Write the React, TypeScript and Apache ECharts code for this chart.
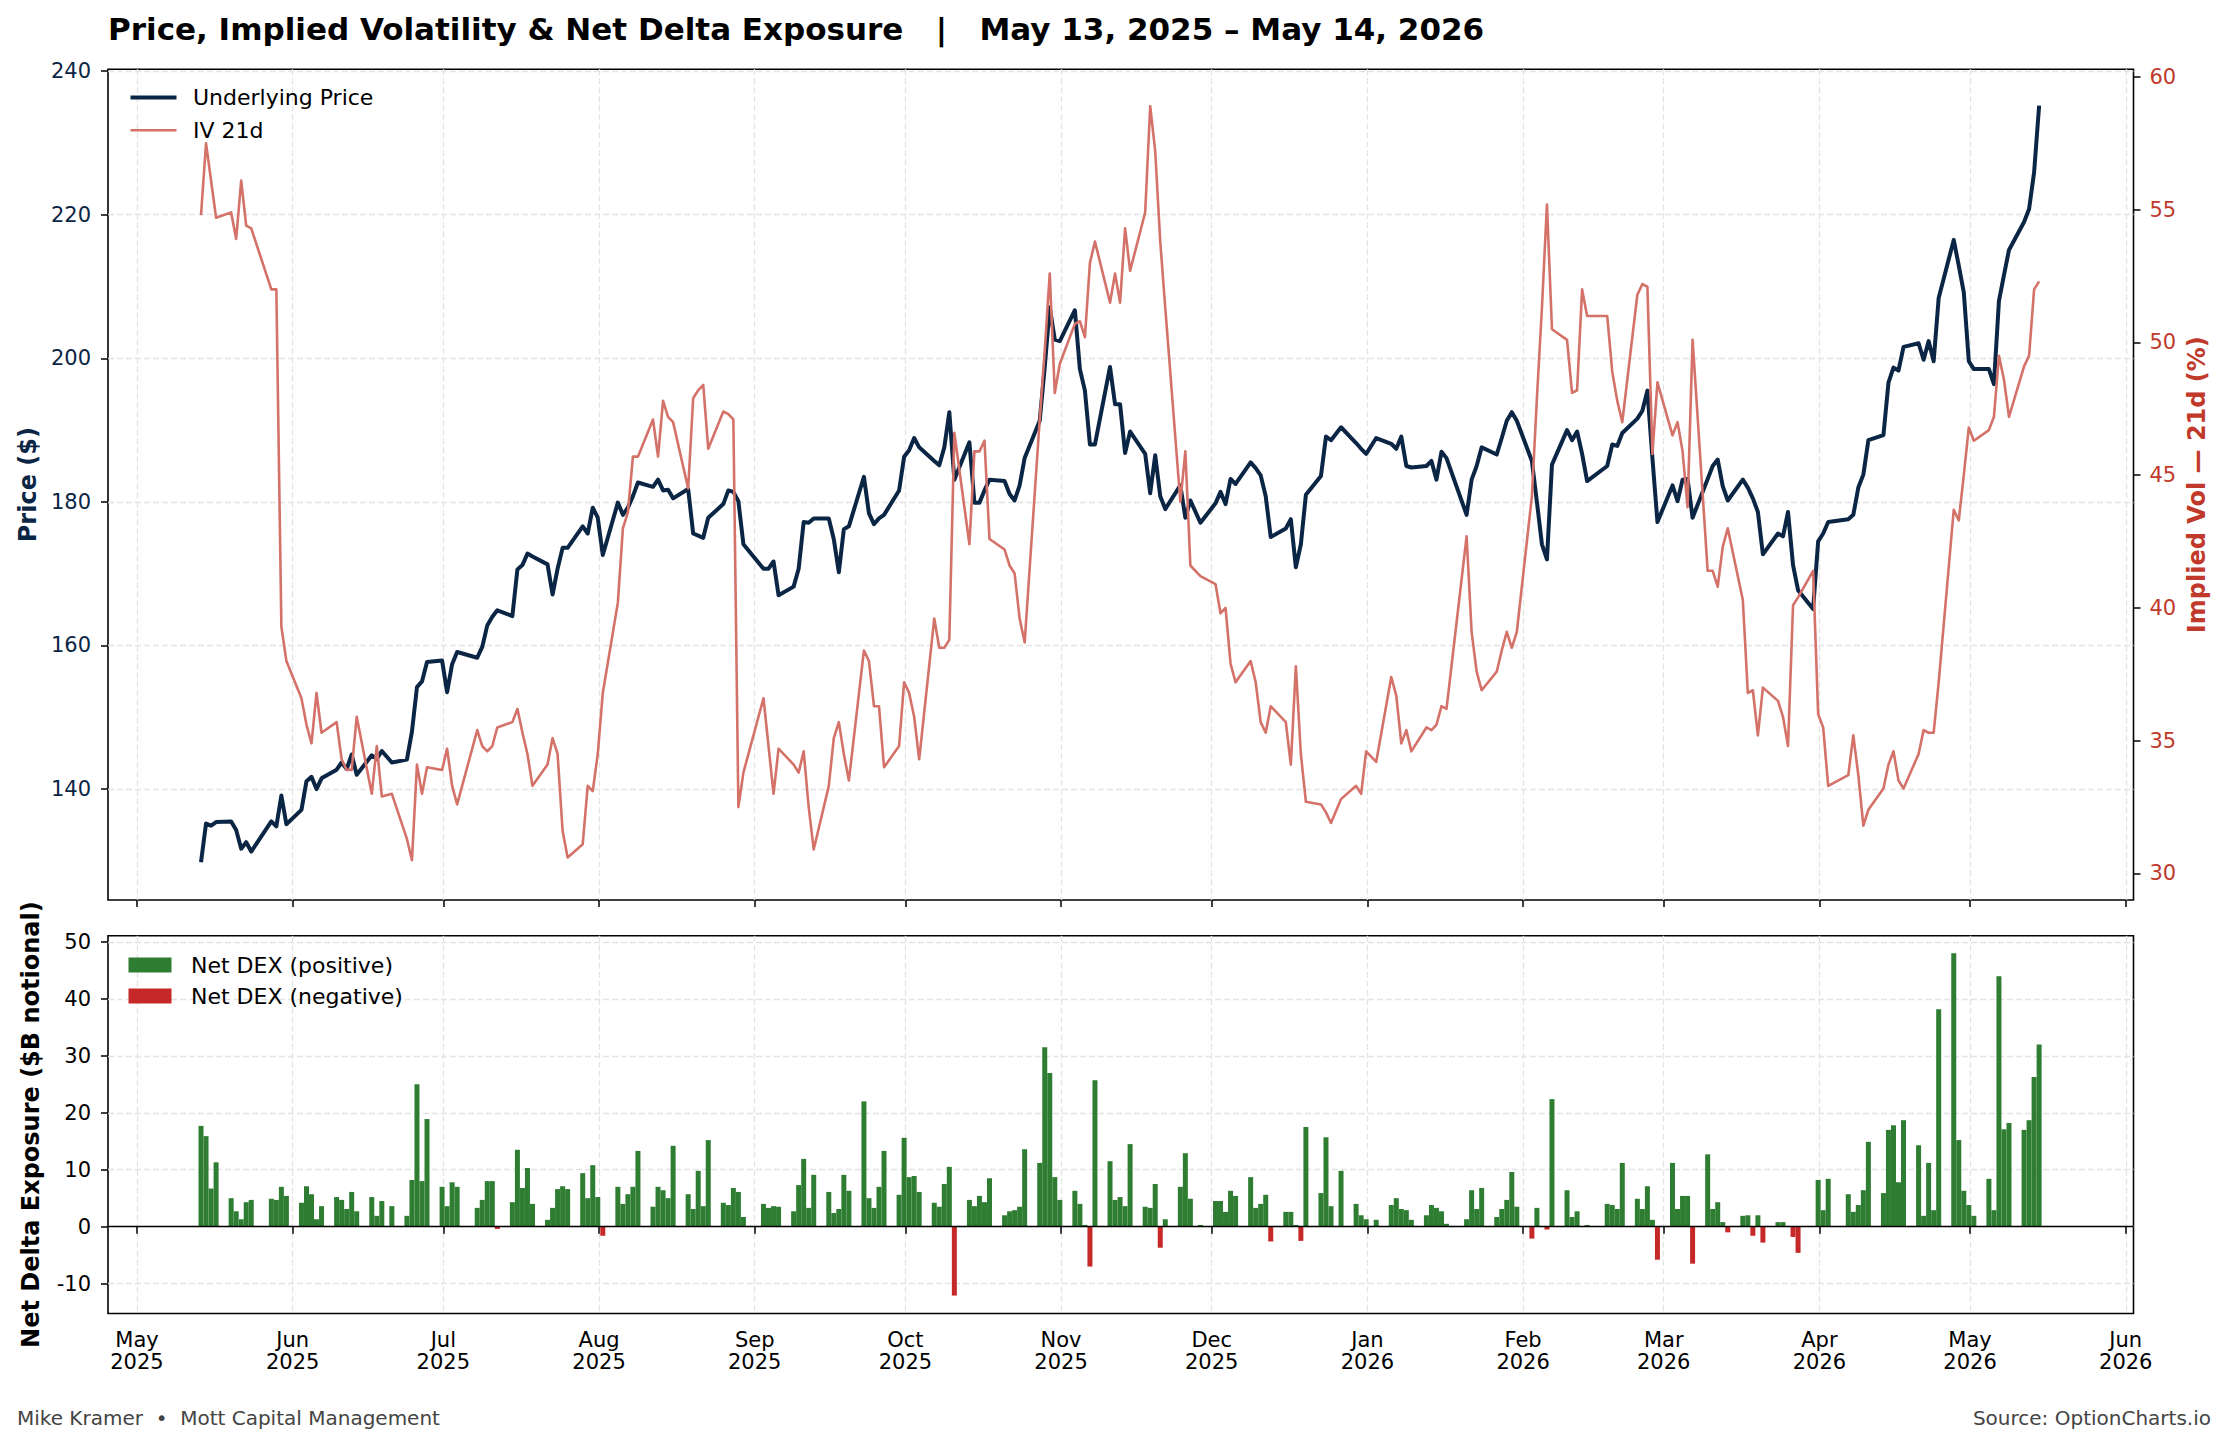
import { useEffect, useRef } from "react";
import * as echarts from "echarts";

// trading calendar of the chart (NYSE sessions between these dates)
const START = "2025-05-13";
const END = "2026-05-14";
const HOLIDAYS = [
  "2025-05-26", "2025-06-19", "2025-07-04", "2025-09-01", "2025-11-27",
  "2025-12-25", "2026-01-01", "2026-01-19", "2026-02-16", "2026-04-03",
];

// underlying close, one value per session (grouped by month)
const PRICE = [
  129.8, 135.2, 134.9, 135.4, 135.5, 134.3, 131.7, 132.6, 131.3, 135.5, 134.8, 139.1, 135.1,
  137.1, 141.1, 141.7, 140.0, 141.5, 142.7, 143.7, 142.8, 144.8, 142.0, 144.7, 144.2, 145.3, 143.7, 144.1, 148.0, 154.2, 155.0, 157.7, 157.9,
  153.5, 157.4, 159.1, 158.3, 159.8, 162.8, 164.0, 164.9, 164.1, 170.6, 171.2, 172.8, 172.4, 171.3, 167.1, 170.7, 173.6, 173.6, 176.6, 175.6, 179.2, 177.8,
  172.6, 179.9, 178.2, 179.2, 180.8, 182.7, 182.1, 183.1, 181.6, 181.7, 180.5, 181.8, 175.6, 175.3, 175.0, 177.8, 179.7, 181.6, 181.4, 180.1, 174.1,
  170.7, 170.7, 171.7, 167.0, 168.2, 170.7, 177.2, 177.1, 177.7, 177.7, 174.8, 170.2, 176.2, 176.6, 183.5, 178.4, 176.9, 177.7, 178.2, 181.6, 186.3,
  187.2, 188.9, 187.6, 185.7, 185.1, 187.6, 192.5, 183.1, 188.3, 179.9, 179.9, 181.6, 183.1, 182.9, 181.1, 180.2, 182.3, 186.1, 191.3, 198.8, 207.1, 202.6, 202.4,
  206.7, 198.5, 195.5, 188.0, 188.0, 198.8, 193.6, 193.6, 186.8, 189.8, 186.7, 181.2, 186.5, 180.8, 179.0, 182.3, 177.8, 180.2, 177.1,
  179.8, 181.4, 179.7, 183.2, 182.5, 185.5, 184.7, 183.7, 180.8, 175.1, 176.3, 177.6, 170.9, 174.1, 181.0, 183.6, 189.1, 188.6, 190.4, 188.2, 187.4, 186.7,
  188.9, 188.1, 187.4, 189.1, 185.0, 184.8, 185.0, 185.7, 183.1, 187.0, 186.1, 178.2, 183.1, 185.0, 187.6, 186.6, 188.9, 191.3, 192.5, 191.3,
  185.7, 180.0, 174.1, 172.0, 185.2, 190.0, 188.6, 189.8, 186.7, 182.9, 185.0, 188.0, 187.8, 189.6, 191.6, 192.7, 195.5, 186.1, 177.2,
  182.3, 180.1, 183.1, 183.2, 177.8, 183.2, 185.0, 185.9, 182.2, 180.2, 183.1, 182.0, 180.5, 178.6, 172.7, 175.6, 175.2, 178.6, 171.2, 167.7, 165.1, 174.5,
  175.6, 177.2, 177.6, 178.2, 182.0, 183.8, 188.6, 189.3, 196.6, 198.7, 198.3, 201.6, 202.1, 199.8, 202.4, 199.6, 208.4, 216.5, 212.9, 209.2, 199.6,
  198.5, 198.5, 196.4, 208.0, 211.6, 215.1, 219.0, 220.8, 225.9, 235.2,
];

// 21-day implied volatility, %
const IV_21D = [
  54.8, 57.5, 56.1, 54.7, 54.9, 53.9, 56.1, 54.4, 54.3, 52.0, 52.0, 39.3, 38.0,
  36.6, 35.6, 34.9, 36.8, 35.3, 35.7, 34.3, 33.9, 33.9, 35.9, 33.0, 34.8, 32.9, 33.0, 31.3, 30.5, 34.1, 33.0, 34.0, 33.9,
  34.7, 33.3, 32.6, 35.4, 34.8, 34.6, 34.8, 35.5, 35.7, 36.2, 35.3, 34.5, 33.3, 34.1, 35.1, 34.5, 31.6, 30.6, 31.1, 33.3, 33.1, 34.5,
  36.8, 40.2, 43.0, 43.6, 45.7, 45.7, 47.1, 45.7, 47.8, 47.2, 47.0, 44.5, 47.9, 48.2, 48.4, 46.0, 47.4, 47.3, 47.1, 32.5, 33.8,
  36.6, 34.8, 33.0, 34.7, 34.1, 33.8, 34.6, 32.5, 30.9, 33.3, 35.1, 35.7, 34.5, 33.5, 38.4, 38.0, 36.3, 36.3, 34.0, 34.8, 37.2,
  36.8, 35.9, 34.3, 39.6, 38.5, 38.5, 38.8, 46.6, 42.4, 45.9, 45.9, 46.3, 42.6, 42.2, 41.6, 41.3, 39.6, 38.7, 47.1, 49.7, 52.6, 48.1, 49.2,
  50.7, 50.8, 50.2, 53.0, 53.8, 51.5, 52.6, 51.5, 54.3, 52.7, 54.9, 58.9, 57.2, 53.8, 51.3, 44.0, 45.9, 41.6, 41.2,
  40.9, 39.8, 40.0, 37.9, 37.2, 38.0, 37.2, 35.7, 35.3, 36.3, 35.7, 34.1, 37.8, 34.5, 32.7, 32.6, 32.3, 31.9, 32.8, 33.3, 33.0, 34.6,
  34.2, 37.4, 36.7, 34.9, 35.4, 34.6, 35.5, 35.4, 35.6, 36.3, 36.2, 42.7, 39.1, 37.6, 36.9, 37.6, 38.4, 39.1, 38.5, 39.1,
  44.2, 47.9, 51.3, 55.2, 50.5, 50.1, 48.1, 48.2, 52.0, 51.0, 51.0, 48.9, 47.8, 47.0, 51.8, 52.2, 52.1, 45.8, 48.5,
  46.5, 47.0, 45.9, 43.8, 50.1, 41.4, 41.4, 40.8, 42.3, 43.0, 40.3, 36.8, 36.9, 35.2, 37.0, 36.5, 35.9, 34.8, 40.1, 40.4, 41.4, 36.0,
  35.5, 33.3, 33.7, 35.2, 33.7, 31.8, 32.4, 33.2, 34.1, 34.6, 33.5, 33.2, 34.5, 35.4, 35.3, 35.3, 37.2, 43.7, 43.3, 45.0, 46.8,
  46.3, 46.7, 47.2, 49.5, 48.6, 47.2, 49.1, 49.5, 52.0, 52.3,
];

// net delta exposure, $B notional
const NET_DEX = [
  17.7, 15.9, 6.7, 11.3, 5.0, 2.7, 1.3, 4.3, 4.7, 4.9, 4.7, 7.0, 5.4,
  4.2, 7.1, 5.7, 1.3, 3.6, 5.2, 4.7, 3.1, 6.1, 2.7, 5.2, 1.9, 4.5, 3.6, 1.9, 8.2, 25.0, 8.0, 18.9, 7.0,
  3.6, 7.8, 7.0, 3.3, 4.7, 8.0, 8.0, -0.4, 4.3, 13.5, 6.8, 10.3, 4.0, 1.2, 3.3, 6.6, 7.1, 6.6, 9.4, 5.0, 10.8, 5.2,
  -1.6, 7.0, 4.0, 5.7, 7.0, 13.3, 3.5, 7.0, 6.4, 5.0, 14.2, 5.7, 3.1, 9.8, 3.6, 15.2, 4.2, 3.8, 6.8, 6.1, 1.7,
  4.0, 3.3, 3.6, 3.5, 2.7, 7.3, 11.9, 3.3, 9.1, 6.1, 2.4, 3.1, 9.1, 6.3, 22.0, 5.0, 3.3, 7.0, 13.3, 5.6, 15.6,
  8.7, 8.9, 6.1, 4.2, 3.5, 7.5, 10.5, -12.1, 4.7, 3.6, 5.4, 4.3, 8.5, 2.0, 2.7, 2.9, 3.5, 13.6, 11.2, 31.5, 27.0, 8.7, 4.7,
  6.3, 4.0, 0.3, -7.0, 25.7, 11.5, 4.7, 5.2, 3.6, 14.5, 3.5, 3.3, 7.5, -3.7, 1.3, 7.0, 12.9, 4.9, 0.3,
  4.5, 4.5, 2.6, 6.3, 5.4, 8.7, 3.3, 4.0, 5.6, -2.6, 2.6, 2.6, 0.3, -2.5, 17.5, 5.9, 15.7, 3.6, 9.8, 4.0, 2.0, 1.3,
  1.2, 3.8, 5.0, 3.1, 2.9, 1.2, 2.0, 3.8, 3.3, 2.7, 0.5, 1.3, 6.4, 3.1, 6.8, 1.7, 3.1, 4.7, 9.6, 3.5,
  -2.1, 3.3, 0, -0.5, 22.4, 6.4, 1.7, 2.7, 0.1, 0.3, 4.0, 3.8, 3.1, 11.2, 4.9, 3.1, 7.1, 1.2, -5.8,
  11.2, 3.1, 5.4, 5.4, -6.5, 12.7, 3.1, 4.3, 0.8, -1.0, 1.9, 2.0, -1.6, 2.0, -2.8, 0.8, 0.8, 0, -1.8, -4.6, 0, 8.2,
  2.9, 8.4, 5.7, 2.6, 3.8, 6.4, 14.9, 5.9, 17.0, 17.8, 7.8, 18.7, 14.3, 1.9, 11.2, 2.9, 38.2, 48.0, 15.2, 6.3, 3.8,
  1.9, 8.4, 2.9, 44.0, 17.1, 18.2, 17.0, 18.7, 26.3, 32.0,
];

const MONTH_TICKS = [
  "2025-05-01", "2025-06-01", "2025-07-01", "2025-08-01", "2025-09-01", "2025-10-01", "2025-11-01",
  "2025-12-01", "2026-01-01", "2026-02-01", "2026-03-01", "2026-04-01", "2026-05-01", "2026-06-01",
];
const PRICE_TICKS = [140, 160, 180, 200, 220, 240];
const IV_TICKS = [30, 35, 40, 45, 50, 55, 60];
const DEX_TICKS = [-10, 0, 10, 20, 30, 40, 50];

const MONTHS = ["Jan", "Feb", "Mar", "Apr", "May", "Jun", "Jul", "Aug", "Sep", "Oct", "Nov", "Dec"];

const NAVY = "#0b2545";
const IV_RED = "#d4726a";
const AXIS_RED = "#c0392b";
const GREEN = "#2e7d32";
const NEG_RED = "#c62828";
const GRID = "#e4e4e4";
const FONT = "DejaVu Sans";

function tradingDays(): string[] {
  const out: string[] = [];
  const end = Date.parse(END + "T00:00:00Z");
  for (let t = Date.parse(START + "T00:00:00Z"); t <= end; t += 86400000) {
    const d = new Date(t);
    const iso = d.toISOString().slice(0, 10);
    const wd = d.getUTCDay();
    if (wd === 0 || wd === 6 || HOLIDAYS.includes(iso)) continue;
    out.push(iso);
  }
  return out;
}

const ts = (iso: string, time = "T18:00:00Z") => Date.parse(iso + time);

const PriceIvDexChart = () => {
  const chartRef = useRef<HTMLDivElement>(null);

  useEffect(() => {
    if (!chartRef.current) return;
    const chart = echarts.init(chartRef.current, null, { renderer: "svg" });

    const days = tradingDays();
    const priceData = days.map((d, i) => [ts(d), PRICE[i]]);
    const ivData = days.map((d, i) => [ts(d), IV_21D[i]]);
    const posData: number[][] = [];
    const negData: number[][] = [];
    days.forEach((d, i) => {
      if (NET_DEX[i] > 0) posData.push([ts(d), NET_DEX[i]]);
      else if (NET_DEX[i] < 0) negData.push([ts(d), NET_DEX[i]]);
    });

    const monthTicks = MONTH_TICKS.map((m) => ts(m, "T00:00:00Z"));
    const xMin = Date.parse("2025-04-25T05:30:00Z");
    const xMax = Date.parse("2026-06-02T13:00:00Z");

    const tick = { show: true, length: 7, lineStyle: { color: "#000", width: 1.5 } };
    const dashed = { show: true, lineStyle: { color: GRID, width: 1.3, type: [6, 3] } };

    // a plain value axis over timestamps, ticked at the first of every month
    const xAxisBase = (gridIndex: number, showLabel: boolean) => ({
      type: "value",
      gridIndex,
      min: xMin,
      max: xMax,
      axisLine: { show: false },
      axisTick: { ...tick, customValues: monthTicks },
      splitLine: dashed,
      axisLabel: {
        show: showLabel,
        customValues: monthTicks,
        fontFamily: FONT,
        fontSize: 21,
        lineHeight: 22,
        color: "#000",
        margin: 15,
        formatter: (v: number) => {
          const d = new Date(v);
          return MONTHS[d.getUTCMonth()] + "\n" + d.getUTCFullYear();
        },
      },
    });

    const option = {
      animation: false,
      textStyle: { fontFamily: FONT },
      grid: [
        { left: 108, right: 93.5, top: 69.3, height: 830.7, show: true, borderColor: "#000", borderWidth: 1.6, outerBoundsMode: "none" },
        { left: 108, right: 93.5, top: 935.7, height: 377.8, show: true, borderColor: "#000", borderWidth: 1.6, outerBoundsMode: "none" },
      ],
      xAxis: [xAxisBase(0, false), xAxisBase(1, true)],
      yAxis: [
        {
          type: "value",
          gridIndex: 0,
          position: "left",
          min: 124.55,
          max: 240.26,
          axisLine: { show: false },
          axisTick: { ...tick, customValues: PRICE_TICKS },
          axisLabel: { customValues: PRICE_TICKS, color: NAVY, fontFamily: FONT, fontSize: 21, margin: 17 },
          splitLine: dashed,
          name: "Price ($)",
          nameLocation: "middle",
          nameRotate: 90,
          nameGap: 68,
          nameMoveOverlap: false,
          nameTextStyle: { color: NAVY, fontWeight: "bold", fontSize: 24, fontFamily: FONT },
        },
        {
          type: "value",
          gridIndex: 0,
          position: "right",
          min: 29.0,
          max: 60.29,
          axisLine: { show: false },
          axisTick: { ...tick, customValues: IV_TICKS },
          axisLabel: { customValues: IV_TICKS, color: AXIS_RED, fontFamily: FONT, fontSize: 21, margin: 16 },
          splitLine: { show: false },
          name: "Implied Vol — 21d (%)",
          nameLocation: "middle",
          nameRotate: 90,
          nameGap: 51,
          nameMoveOverlap: false,
          nameTextStyle: { color: AXIS_RED, fontWeight: "bold", fontSize: 24, fontFamily: FONT },
        },
        {
          type: "value",
          gridIndex: 1,
          position: "left",
          min: -15.25,
          max: 51.1,
          axisLine: { show: false },
          axisTick: { ...tick, customValues: DEX_TICKS },
          axisLabel: { customValues: DEX_TICKS, color: "#000", fontFamily: FONT, fontSize: 21, margin: 17 },
          splitLine: dashed,
          name: "Net Delta Exposure ($B notional)",
          nameLocation: "middle",
          nameRotate: 90,
          nameGap: 65,
          nameMoveOverlap: false,
          nameTextStyle: { color: "#000", fontWeight: "bold", fontSize: 24, fontFamily: FONT },
        },
      ],
      legend: [
        {
          data: ["Underlying Price", "IV 21d"],
          orient: "vertical",
          left: 123.5,
          top: 80.5,
          itemWidth: 46,
          itemHeight: 14,
          itemGap: 8.7,
          selectedMode: false,
          itemStyle: { opacity: 0 },
          lineStyle: { width: "inherit" },
          textStyle: { fontFamily: FONT, fontSize: 22, color: "#000", lineHeight: 24, padding: [0, 0, 0, 11.5] },
        },
        {
          data: ["Net DEX (positive)", "Net DEX (negative)"],
          orient: "vertical",
          left: 123.5,
          top: 948,
          itemWidth: 43,
          itemHeight: 15,
          itemGap: 7,
          icon: "rect",
          selectedMode: false,
          textStyle: { fontFamily: FONT, fontSize: 22, color: "#000", lineHeight: 24, padding: [0, 0, 0, 14.5] },
        },
      ],
      series: [
        {
          name: "Underlying Price",
          type: "line",
          xAxisIndex: 0,
          yAxisIndex: 0,
          data: priceData,
          symbol: "none",
          z: 3,
          itemStyle: { color: NAVY },
          lineStyle: { color: NAVY, width: 4, join: "round" },
        },
        {
          name: "IV 21d",
          type: "line",
          xAxisIndex: 0,
          yAxisIndex: 1,
          data: ivData,
          symbol: "none",
          z: 4,
          itemStyle: { color: IV_RED },
          lineStyle: { color: IV_RED, width: 2.6, join: "round" },
        },
        {
          name: "Net DEX (positive)",
          type: "bar",
          xAxisIndex: 1,
          yAxisIndex: 2,
          data: posData,
          barWidth: 5,
          barGap: "-100%",
          itemStyle: { color: GREEN },
        },
        {
          name: "Net DEX (negative)",
          type: "bar",
          xAxisIndex: 1,
          yAxisIndex: 2,
          data: negData,
          barWidth: 5,
          barGap: "-100%",
          itemStyle: { color: NEG_RED },
          markLine: {
            silent: true,
            symbol: "none",
            label: { show: false },
            lineStyle: { color: "#000", width: 1.3, type: "solid" },
            data: [{ yAxis: 0 }],
          },
        },
      ],
      graphic: [
        {
          type: "text",
          x: 108,
          y: 29,
          style: {
            text: "Price, Implied Volatility & Net Delta Exposure   |   May 13, 2025 – May 14, 2026",
            fontFamily: FONT,
            fontWeight: "bold",
            fontSize: 31,
            fill: "#000",
            align: "left",
            verticalAlign: "middle",
          },
        },
        {
          type: "text",
          x: 17,
          y: 1418,
          style: {
            text: "Mike Kramer  •  Mott Capital Management",
            fontFamily: FONT,
            fontSize: 20,
            fill: "#444",
            align: "left",
            verticalAlign: "middle",
          },
        },
        {
          type: "text",
          x: 2211,
          y: 1418,
          style: {
            text: "Source: OptionCharts.io",
            fontFamily: FONT,
            fontSize: 20,
            fill: "#444",
            align: "right",
            verticalAlign: "middle",
          },
        },
      ],
    };

    chart.setOption(option as any);

    return () => {
      chart.dispose();
    };
  }, []);

  return (
    <div
      ref={chartRef}
      style={{ position: "absolute", left: 0, top: 0, width: "2227px", height: "1443px", background: "#fff" }}
    ></div>
  );
};

export default function App() {
  return <PriceIvDexChart />;
}
